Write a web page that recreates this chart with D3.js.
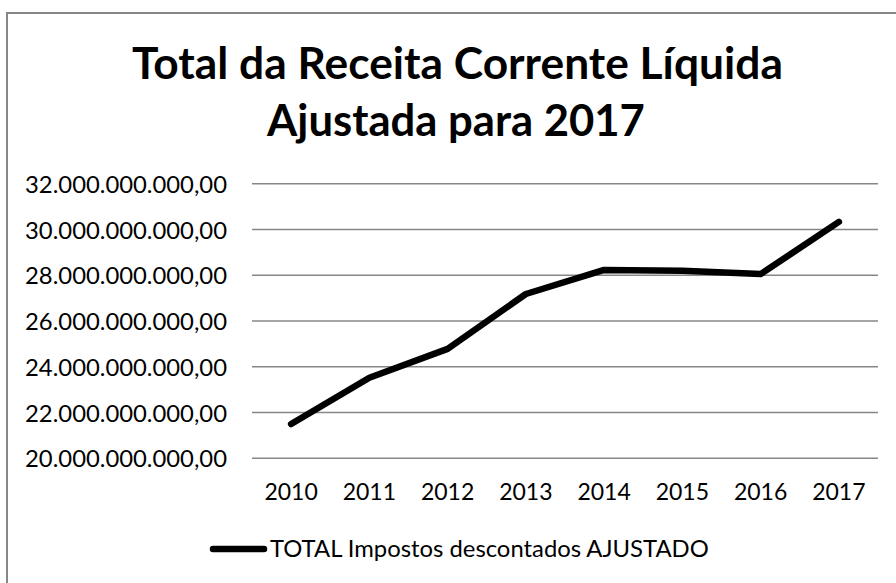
<!DOCTYPE html>
<html>
<head>
<meta charset="utf-8">
<script src="https://cdn.jsdelivr.net/npm/d3@7"></script>
<style>
  body { margin: 0; background: #fff; }
  text { font-family: Lato, "Open Sans", sans-serif; fill: #000; }
</style>
</head>
<body>
<div id="graphic"></div>
<script>
// data
var years = ["2010", "2011", "2012", "2013", "2014", "2015", "2016", "2017"];
var values = [21.50e9, 23.52e9, 24.78e9, 27.18e9, 28.23e9, 28.20e9, 28.05e9, 30.33e9];
var yTicks = [20e9, 22e9, 24e9, 26e9, 28e9, 30e9, 32e9];
var titleLines = ["Total da Receita Corrente Líquida", "Ajustada para 2017"];
var seriesName = "TOTAL Impostos descontados AJUSTADO";

var data = years.map(function(y, i) { return {year: y, value: values[i]}; });

// pt-BR number format: 32.000.000.000,00
var br = d3.formatLocale({decimal: ",", thousands: ".", grouping: [3], currency: ["R$", ""]});
var fmt = br.format(",.2f");

var svg = d3.select("#graphic").append("svg")
  .attr("width", 896)
  .attr("height", 583);

// chart frame (runs off the right and bottom of the picture)
svg.append("rect")
  .attr("x", 7).attr("y", 13)
  .attr("width", 1000).attr("height", 700)
  .style("fill", "none")
  .style("stroke", "#878787")
  .style("stroke-width", 2);

// shrink/grow a text so it spans a given width
function fitText(sel, target) {
  var w = sel.node().getComputedTextLength();
  var fs = parseFloat(sel.attr("font-size"));
  sel.attr("font-size", fs * target / w);
}

// title
var t1 = svg.append("text")
  .attr("x", 457.5).attr("y", 79)
  .attr("text-anchor", "middle")
  .attr("font-size", 40)
  .attr("font-weight", "bold")
  .text(titleLines[0]);
fitText(t1, 651);
var t2 = svg.append("text")
  .attr("x", 456).attr("y", 136)
  .attr("text-anchor", "middle")
  .attr("font-size", 40)
  .attr("font-weight", "bold")
  .text(titleLines[1]);
fitText(t2, 378);

// scales
var x = d3.scaleBand()
  .domain(years)
  .range([252, 878])
  .padding(0);

var y = d3.scaleLinear()
  .domain([20e9, 32e9])
  .range([458.3, 183.7]);

// gridlines
svg.append("g")
  .selectAll("line")
  .data(yTicks)
  .enter().append("line")
    .attr("x1", 252)
    .attr("x2", 878)
    .attr("y1", function(d) { return y(d); })
    .attr("y2", function(d) { return y(d); })
    .style("stroke", "#878787")
    .style("stroke-width", 1.6);

// y axis labels
var yAxis = svg.append("g")
  .attr("class", "axis")
  .attr("transform", "translate(227,0)")
  .call(d3.axisLeft(y).tickValues(yTicks).tickFormat(fmt).tickSize(0).tickPadding(0));
yAxis.select(".domain").remove();
yAxis.selectAll("text")
  .attr("font-size", 23)
  .attr("font-family", "Lato, sans-serif")
  .attr("dy", "0.36em");
// all labels have the same length, size them off the first one
var first = yAxis.select("text");
fitText(first, 202);
yAxis.selectAll("text").attr("font-size", first.attr("font-size"));

// x axis labels
var xAxis = svg.append("g")
  .attr("class", "axis")
  .attr("transform", "translate(0,483)")
  .call(d3.axisBottom(x).tickSize(0).tickPadding(0));
xAxis.select(".domain").remove();
xAxis.selectAll("text")
  .attr("font-size", 23)
  .attr("font-family", "Lato, sans-serif")
  .attr("dy", "0.72em");

// the series line
var line = d3.line()
  .x(function(d) { return x(d.year) + x.bandwidth() / 2; })
  .y(function(d) { return y(d.value); });

svg.append("path")
  .datum(data)
  .attr("d", line)
  .style("fill", "none")
  .style("stroke", "#000")
  .style("stroke-width", 6.5)
  .style("stroke-linejoin", "round")
  .style("stroke-linecap", "round");

// legend
var legend = svg.append("g");
legend.append("line")
  .attr("x1", 213).attr("x2", 264)
  .attr("y1", 549).attr("y2", 549)
  .style("stroke", "#000")
  .style("stroke-width", 6.5)
  .style("stroke-linecap", "round");
var lt = legend.append("text")
  .attr("x", 270).attr("y", 557)
  .attr("font-size", 22)
  .text(seriesName);
fitText(lt, 439);
</script>
</body>
</html>
